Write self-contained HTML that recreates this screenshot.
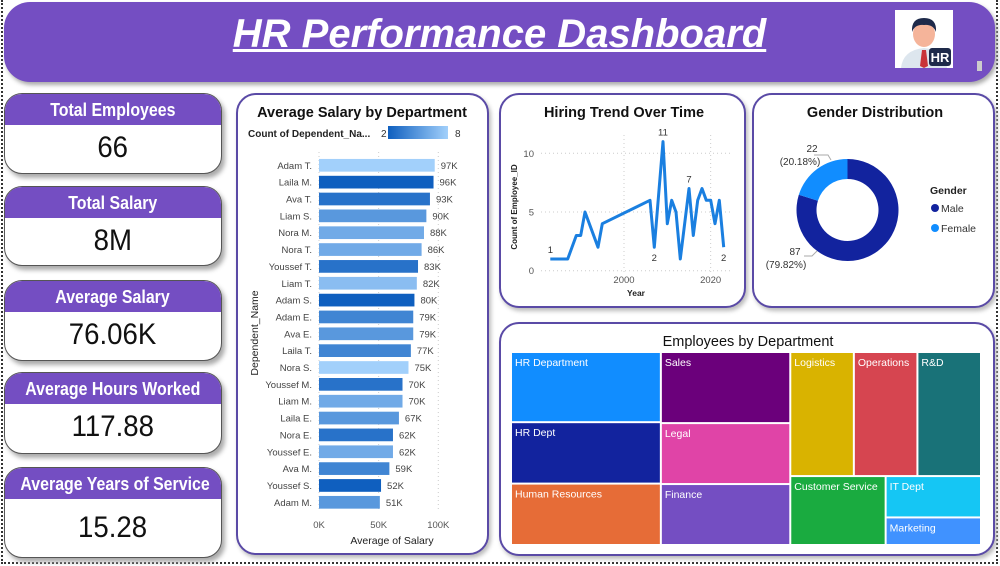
<!DOCTYPE html>
<html><head><meta charset="utf-8">
<style>
*{box-sizing:border-box;margin:0;padding:0}
body{width:1000px;height:566px;background:#fff;position:relative;overflow:hidden;font-family:"Liberation Sans",sans-serif}
.frame{position:absolute;left:1px;top:0;width:997px;height:564px;border-left:2px dotted #333;border-right:2px dotted #333;border-bottom:2px dotted #333}
.header{position:absolute;left:4px;top:2px;width:991px;height:80px;background:#744ec2;border-radius:26px;box-shadow:2px 3px 4px #aaa}
.title{position:absolute;left:0;width:100%;top:10px;text-align:center;color:#fff;font-size:40px;font-weight:bold;font-style:italic;text-decoration:underline;text-decoration-thickness:3px}
.card{position:absolute;left:4px;width:218px;border-radius:18px;border:1px solid #555;background:#fff;overflow:hidden;box-shadow:3px 4px 5px #aaa}
.card .hd{background:#744ec2;color:#fff;font-weight:bold;font-size:18.5px;text-align:center;height:31px;line-height:31px;white-space:nowrap}
.card .hd span{display:inline-block;transform:scaleX(0.86)}
.card .val{text-align:center;font-size:30px;color:#111;line-height:46px;white-space:nowrap}
.card .val span{display:inline-block;transform:scaleX(0.92)}
.panel{position:absolute;background:#fff;border:2px solid #5a4aa6;border-radius:20px;box-shadow:2px 3px 4px #bbb}
svg{position:absolute;left:0;top:0}
</style></head><body>
<div class="frame"></div>
<div class="header">
  <div class="title">HR Performance Dashboard</div>
</div>
<div style="position:absolute;left:895px;top:10px;width:58px;height:58px;background:#fff">
  <svg width="58" height="58">
    <path d="M6 58 Q8 40 29 38 Q50 40 52 58Z" fill="#dde6ee"/>
    <path d="M27 40 L31 40 L33 56 L29 58 L25 56Z" fill="#c9343a"/>
    <ellipse cx="29" cy="24" rx="11" ry="13" fill="#f5b49a"/>
    <path d="M17 22 Q16 8 29 8 Q42 8 41 22 Q38 14 29 15 Q20 14 17 22Z" fill="#1e2a4a"/>
    <rect x="34" y="38" width="22" height="18" rx="3" fill="#1e2a4a"/>
    <text x="45" y="52" fill="#fff" font-size="13" font-weight="bold" text-anchor="middle" font-family="Liberation Sans">HR</text>
  </svg>
</div>
<div style="position:absolute;left:977px;top:61px;width:5px;height:10px;background:#ccc"></div>

<div class="card" style="top:93px;height:81px"><div class="hd"><span>Total Employees</span></div><div class="val"><span>66</span></div></div>
<div class="card" style="top:186px;height:80px"><div class="hd"><span>Total Salary</span></div><div class="val"><span>8M</span></div></div>
<div class="card" style="top:280px;height:81px"><div class="hd"><span>Average Salary</span></div><div class="val"><span>76.06K</span></div></div>
<div class="card" style="top:372px;height:82px"><div class="hd"><span>Average Hours Worked</span></div><div class="val"><span>117.88</span></div></div>
<div class="card" style="top:467px;height:91px"><div class="hd"><span>Average Years of Service</span></div><div class="val" style="padding-top:6px"><span>15.28</span></div></div>

<div class="panel" style="left:236px;top:93px;width:253px;height:462px"></div>
<div class="panel" style="left:499px;top:93px;width:247px;height:215px"></div>
<div class="panel" style="left:752px;top:93px;width:243px;height:215px"></div>
<div class="panel" style="left:499px;top:322px;width:496px;height:234px"></div>

<svg id="charts" width="1000" height="566" font-family="Liberation Sans, sans-serif"></svg>

<script>
// ---- Bar chart data ----
const barNames = ["Adam T.","Laila M.","Ava T.","Liam S.","Nora M.","Nora T.","Youssef T.","Liam T.","Adam S.","Adam E.","Ava E.","Laila T.","Nora S.","Youssef M.","Liam M.","Laila E.","Nora E.","Youssef E.","Ava M.","Youssef S.","Adam M."];
const barSalaryK = [97,96,93,90,88,86,83,82,80,79,79,77,75,70,70,67,62,62,59,52,51];
const barCounts = [8,2,3,5,6,6,3,7,2,4,5,4,8,3,6,5,3,6,4,2,5];
const barTicks = [0,50,100];
// ---- Line chart data ----
const lineYears = [1983,1987,1989,1990,1991,1994,1995,2006,2007,2009,2010,2011,2012,2013,2015,2016,2017,2018,2019,2020,2021,2022,2023];
const lineCounts = [1,1,3,3,5,2,4,6,2,11,4,6,5,1,7,3,6,7,6,6,4,6,2];
const lineXTicks = [2000,2020];
const lineYTicks = [0,5,10];
// ---- Gender data ----
const genderLabels = ["Male","Female"];
const genderCounts = [87,22];
// ---- Treemap data ----
const tmNames = ["HR Department","HR Dept","Human Resources","Sales","Legal","Finance","Logistics","Operations","R&D","Customer Service","IT Dept","Marketing"];
const tmValues = [8,7,7,7,6,6,6,6,6,5,3,2];

const NS="http://www.w3.org/2000/svg";
const svg=document.getElementById('charts');
function el(tag,attrs,parent){const e=document.createElementNS(NS,tag);for(const k in attrs)e.setAttribute(k,attrs[k]);(parent||svg).appendChild(e);return e;}
function txt(x,y,s,attrs){const t=el('text',Object.assign({x:x,y:y},attrs||{}));t.textContent=s;return t;}
function mix(a,b,t){return a.map((v,i)=>Math.round(v+(b[i]-v)*t));}

// ===== Bar chart =====
(function(){
  const t=txt(362,117,"Average Salary by Department",{'font-size':14.5,'font-weight':'bold','text-anchor':'middle',fill:'#111'});
  
  const lg=txt(248,137,"Count of Dependent_Na...",{'font-size':10,'font-weight':'bold',fill:'#222'});
  
  txt(381,137,"2",{'font-size':10,fill:'#333'});
  const defs=el('defs',{});const g=el('linearGradient',{id:'cg'},defs);
  el('stop',{offset:'0','stop-color':'#0f5fbf'},g);el('stop',{offset:'1','stop-color':'#a2d0fb'},g);
  const gb=el('rect',{x:388,y:126,width:60,height:13,fill:'url(#cg)'});
  
  txt(455,137,"8",{'font-size':10,fill:'#333'});
  const x0=319, pxPerK=1.193, top=165.3, step=16.85, bh=12.7;
  const xs=v=>x0+v*pxPerK;
  const ys=i=>top+i*step;
  barTicks.forEach(v=>{
    const l=el('line',{x1:xs(v),x2:xs(v),y1:152,y2:512,stroke:'#ccc','stroke-dasharray':'1,3'});
    
    const tl=txt(xs(v),528,v+"K",{'font-size':9.5,fill:'#555','text-anchor':'middle'});
    
  });
  const c2=[15,95,191],c8=[162,208,251];
  barNames.forEach((n,i)=>{
    const c=mix(c2,c8,(barCounts[i]-2)/6);
    const r=el('rect',{x:x0,y:ys(i)-bh/2,width:xs(barSalaryK[i])-x0,height:bh,fill:`rgb(${c})`});
    
    
    const yl=txt(312,ys(i)+3.5,n,{'font-size':9.5,fill:'#444','text-anchor':'end'});
    
    const vl=txt(xs(barSalaryK[i])+6,ys(i)+3.5,barSalaryK[i]+"K",{'font-size':9.5,fill:'#444'});
    
  });
  const yt=txt(0,0,"Dependent_Name",{'font-size':10.5,fill:'#222','text-anchor':'middle',transform:'translate(258,333) rotate(-90)'});
  
  const xt=txt(392,544,"Average of Salary",{'font-size':10.5,fill:'#222','text-anchor':'middle'});
  
})();

// ===== Line chart =====
(function(){
  const t=txt(624,117,"Hiring Trend Over Time",{'font-size':14.5,'font-weight':'bold','text-anchor':'middle',fill:'#111'});
  
  const xs=y=>624+(y-2000)*4.333;
  const ys=v=>270.7-v*11.74;
  lineYTicks.forEach(v=>{
    const l=el('line',{x1:541,x2:730,y1:ys(v),y2:ys(v),stroke:'#ccc','stroke-dasharray':'1,3'});
    
    const tl=txt(534,ys(v)+3.5,String(v),{'font-size':9.5,fill:'#555','text-anchor':'end'});
    
  });
  lineXTicks.forEach(v=>{
    const l=el('line',{x1:xs(v),x2:xs(v),y1:135,y2:272,stroke:'#ccc','stroke-dasharray':'1,3'});
    
    const tl=txt(xs(v),283,String(v),{'font-size':9.5,fill:'#555','text-anchor':'middle'});
    
  });
  const pts=lineYears.map((y,i)=>xs(y).toFixed(1)+','+ys(lineCounts[i]).toFixed(1)).join(' ');
  const pl=el('polyline',{points:pts,fill:'none',stroke:'#1a7fe0','stroke-width':3,'stroke-linejoin':'round'});
  
  const labelIdx=[0,8,9,14,22];
  labelIdx.forEach(i=>{
    const below=(i===8||i===22);
    const lb=txt(xs(lineYears[i]),below?ys(lineCounts[i])+14:ys(lineCounts[i])-6,String(lineCounts[i]),{'font-size':9.5,fill:'#333','text-anchor':'middle'});
    
  });
  const yt=txt(0,0,"Count of Employee_ID",{'font-size':8,'font-weight':'bold',fill:'#222','text-anchor':'middle',transform:'translate(517,207) rotate(-90)'});
  
  const xt=txt(636,296,"Year",{'font-size':8.5,'font-weight':'bold',fill:'#222','text-anchor':'middle'});
  
})();

// ===== Donut =====
(function(){
  const t=txt(875,117,"Gender Distribution",{'font-size':14.5,'font-weight':'bold','text-anchor':'middle',fill:'#111'});
  
  const cx=847.5,cy=210,R=51,r=31;
  const colors=['#12239e','#118dff'];
  const total=genderCounts.reduce((a,b)=>a+b,0);
  let a0=0;
  genderCounts.forEach((v,i)=>{
    const a1=a0+v/total*Math.PI*2;
    const p=(a,rad)=>[cx+rad*Math.sin(a),cy-rad*Math.cos(a)];
    const [x1,y1]=p(a0,R),[x2,y2]=p(a1,R),[x3,y3]=p(a1,r),[x4,y4]=p(a0,r);
    const lg=(a1-a0)>Math.PI?1:0;
    const s=el('path',{d:`M${x1},${y1} A${R},${R} 0 ${lg} 1 ${x2},${y2} L${x3},${y3} A${r},${r} 0 ${lg} 0 ${x4},${y4}Z`,fill:colors[i]});
    
    a0=a1;
  });
  el('polyline',{points:'814,155 828,155 831,160',fill:'none',stroke:'#aaa'});
  el('polyline',{points:'804,256 812,256 817,251',fill:'none',stroke:'#aaa'});
  const pct=genderCounts.map(v=>(v/total*100).toFixed(2)+'%');
  txt(812,152,String(genderCounts[1]),{'font-size':10,fill:'#333','text-anchor':'middle'});
  txt(800,165,'('+pct[1]+')',{'font-size':10,fill:'#333','text-anchor':'middle'});
  txt(795,255,String(genderCounts[0]),{'font-size':10,fill:'#333','text-anchor':'middle'});
  txt(786,268,'('+pct[0]+')',{'font-size':10,fill:'#333','text-anchor':'middle'});
  const lt=txt(930,194,"Gender",{'font-size':10.5,'font-weight':'bold',fill:'#222'});
  
  genderLabels.forEach((g,i)=>{
    const c=el('circle',{cx:935,cy:208+i*20,r:4,fill:colors[i]});
    
    const l=txt(941,212+i*20,g,{'font-size':10.5,fill:'#333'});
    
  });
})();

// ===== Treemap =====
(function(){
  const t=txt(748,346,"Employees by Department",{'font-size':14.5,'text-anchor':'middle',fill:'#111'});
  
  const colors=['#118dff','#12239e','#e66c37','#6b007b','#e044a7','#744ec2','#d9b300','#d64550','#197278','#1aab40','#15c6f4','#4092ff'];
  const X=511,Y=352,W=470,H=193;
  const sum=a=>a.reduce((s,i)=>s+tmValues[i],0);
  const total=sum(tmValues.map((_,i)=>i));
  const rects=[];
  function stackV(idx,x,y,w,h){let cy=y;const s=sum(idx);idx.forEach(i=>{const hh=h*tmValues[i]/s;rects.push([i,x,cy,w,hh]);cy+=hh;});}
  function stackH(idx,x,y,w,h){let cx=x;const s=sum(idx);idx.forEach(i=>{const ww=w*tmValues[i]/s;rects.push([i,cx,y,ww,h]);cx+=ww;});}
  const c1=[0,1,2],c2=[3,4,5],c3=[6,7,8,9,10,11];
  const w1=W*sum(c1)/total,w2=W*sum(c2)/total,w3=W-w1-w2;
  stackV(c1,X,Y,w1,H);
  stackV(c2,X+w1,Y,w2,H);
  const top3=[6,7,8],bot3=[9,10,11];
  const h3=H*sum(top3)/sum(c3);
  stackH(top3,X+w1+w2,Y,w3,h3);
  const wcs=w3*tmValues[9]/sum(bot3);
  rects.push([9,X+w1+w2,Y+h3,wcs,H-h3]);
  stackV([10,11],X+w1+w2+wcs,Y+h3,w3-wcs,H-h3);
  rects.forEach(([i,x,y,w,h])=>{
    const r=el('rect',{x:x+1,y:y+1,width:w-2,height:h-2,fill:colors[i]});
    
    
    const l=txt(x+4,y+14,tmNames[i],{'font-size':10.5,fill:'#fff'});
    
  });
})();
</script>
</body></html>
